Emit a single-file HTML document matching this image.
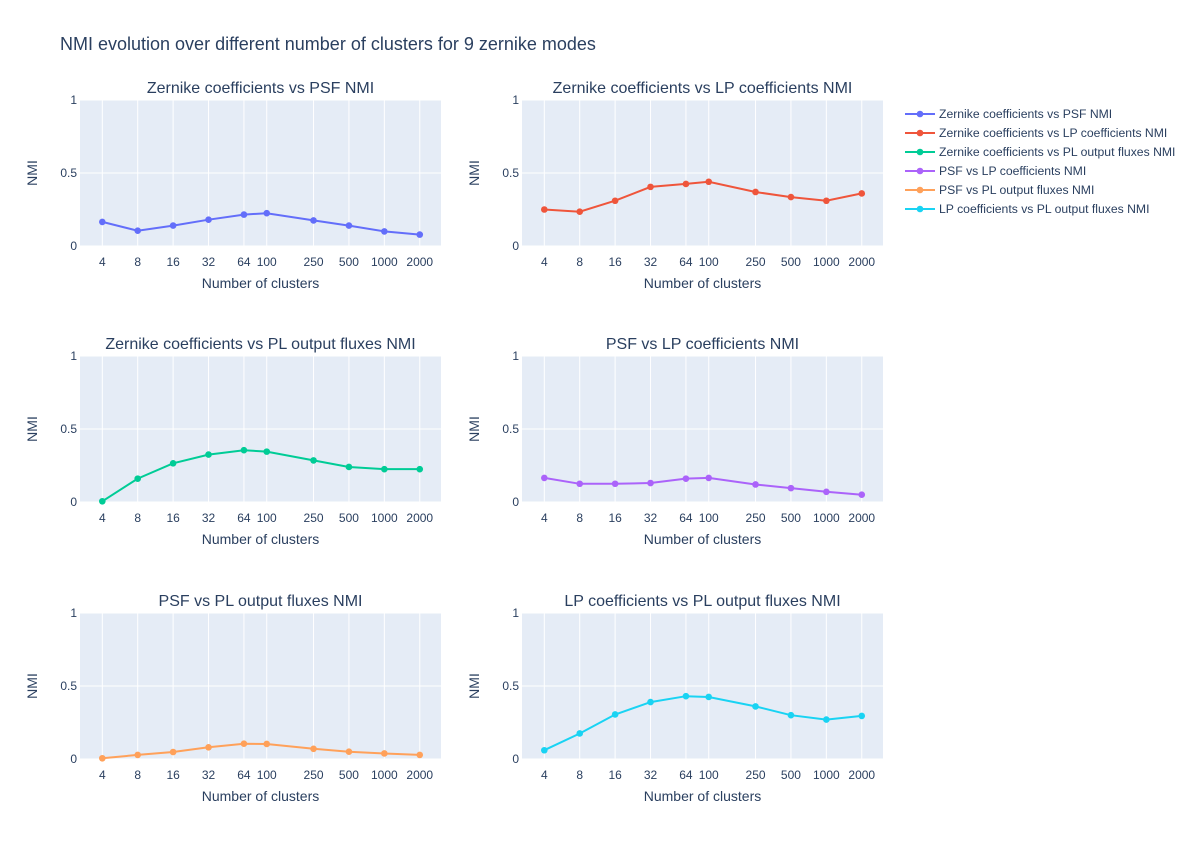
<!DOCTYPE html>
<html><head><meta charset="utf-8"><style>
body{margin:0;background:#fff;font-family:"Liberation Sans",sans-serif;}
svg text{font-family:"Liberation Sans",sans-serif;fill:#2a3f5f;}
</style></head><body>
<svg id="chart" width="1200" height="840" xmlns="http://www.w3.org/2000/svg">
<text x="60" y="50" font-size="18">NMI evolution over different number of clusters for 9 zernike modes</text>
</svg>
<script>
const clusters=[4,8,16,32,64,100,250,500,1000,2000];
const tickLabels=["4","8","16","32","64","100","250","500","1000","2000"];
const yTicks=[0,0.5,1];
const yTickLabels=["0","0.5","1"];
const titles=["Zernike coefficients vs PSF NMI","Zernike coefficients vs LP coefficients NMI","Zernike coefficients vs PL output fluxes NMI","PSF vs LP coefficients NMI","PSF vs PL output fluxes NMI","LP coefficients vs PL output fluxes NMI"];
const colors=["#636efa","#EF553B","#00cc96","#ab63fa","#FFA15A","#19d3f3"];
const s1=[0.165,0.105,0.14,0.18,0.215,0.225,0.175,0.14,0.1,0.078];
const s2=[0.25,0.235,0.31,0.405,0.425,0.44,0.37,0.335,0.31,0.36];
const s3=[0.005,0.16,0.265,0.325,0.355,0.345,0.285,0.24,0.225,0.225];
const s4=[0.165,0.125,0.125,0.13,0.16,0.165,0.12,0.095,0.07,0.05];
const s5=[0.005,0.028,0.048,0.08,0.105,0.103,0.07,0.05,0.038,0.028];
const s6=[0.06,0.175,0.305,0.39,0.43,0.425,0.36,0.3,0.27,0.295];
const series=[s1,s2,s3,s4,s5,s6];
const svg=document.getElementById('chart');
const NS="http://www.w3.org/2000/svg";
function mk(tag,attrs,parent){const e=document.createElementNS(NS,tag);for(const k in attrs)e.setAttribute(k,attrs[k]);(parent||svg).appendChild(e);return e;}
const colX=[80,522], rowY=[100,356,613], W=361, H=146;
const lmin=Math.log10(4)-0.63*Math.log10(2), lmax=Math.log10(2000)+0.6*Math.log10(2);
for(let i=0;i<6;i++){
  const x0=colX[i%2], y0=rowY[Math.floor(i/2)];
  const g=mk('g',{});
  
  
  const xs=v=>x0+(Math.log10(v)-lmin)/(lmax-lmin)*W;
  const ys=v=>y0+H-v*H;
  const bg=mk('rect',{x:x0,y:y0,width:W,height:H,fill:'#e5ecf6'},g);
  
  
  clusters.forEach((c,j)=>{
    mk('line',{x1:xs(c),x2:xs(c),y1:y0,y2:y0+H,stroke:'#fff','stroke-width':1},g);
    const t=mk('text',{x:xs(c),y:y0+H+20,'font-size':12,'text-anchor':'middle'},g);
    t.textContent=tickLabels[j];
    
    
  });
  yTicks.forEach((v,j)=>{
    mk('line',{x1:x0,x2:x0+W,y1:ys(v),y2:ys(v),stroke:'#fff','stroke-width':1},g);
    const t=mk('text',{x:x0-3,y:ys(v)+4,'font-size':12,'text-anchor':'end'},g);
    t.textContent=yTickLabels[j];
    
    
  });
  const tt=mk('text',{x:x0+W/2,y:y0-7,'font-size':16,'text-anchor':'middle'},g);
  tt.textContent=titles[i];
  
  
  const xt=mk('text',{x:x0+W/2,y:y0+H+42,'font-size':14,'text-anchor':'middle'},g);
  xt.textContent='Number of clusters';
  
  
  const yt=mk('text',{x:0,y:0,'font-size':14,'text-anchor':'middle',transform:`translate(${x0-43},${y0+H/2}) rotate(-90)`},g);
  yt.textContent='NMI';
  
  
  const d=series[i].map((v,j)=>(j?'L':'M')+xs(clusters[j]).toFixed(1)+','+ys(v).toFixed(1)).join('');
  const p=mk('path',{d:d,fill:'none',stroke:colors[i],'stroke-width':2},g);
  
  
  series[i].forEach((v,j)=>{
    const c=mk('circle',{cx:xs(clusters[j]),cy:ys(v),r:3.3,fill:colors[i]},g);
    
    
  });
  const ly=114+i*19;
  const lg=mk('g',{},svg);
  
  
  mk('line',{x1:905,x2:935,y1:ly,y2:ly,stroke:colors[i],'stroke-width':2},lg);
  mk('circle',{cx:920,cy:ly,r:3.3,fill:colors[i]},lg);
  const lt=mk('text',{x:939,y:ly+4,'font-size':12.2},lg);
  lt.textContent=titles[i];
}
</script>
</body></html>
